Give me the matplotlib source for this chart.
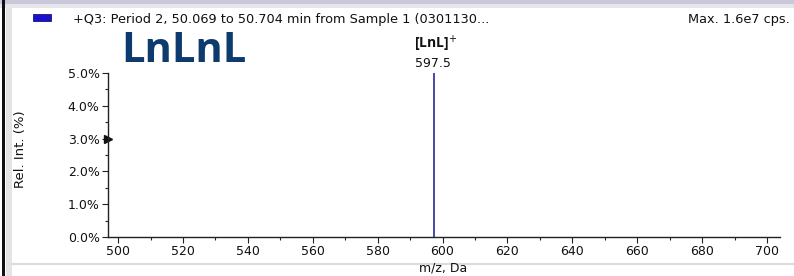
import matplotlib
matplotlib.use("Agg")
import matplotlib.pyplot as plt
from matplotlib.patches import Rectangle
from matplotlib.lines import Line2D
from matplotlib.ticker import MultipleLocator, FuncFormatter

# Data
peak_mz = [597.5]
peak_int = [5.0]
peak_labels = ["597.5"]
ion_label = "[LnL]$^{+}$"
title_text = "+Q3: Period 2, 50.069 to 50.704 min from Sample 1 (0301130..."
max_text = "Max. 1.6e7 cps."
compound = "LnLnL"
x_ticks = [500, 520, 540, 560, 580, 600, 620, 640, 660, 680, 700]
y_ticks = [0.0, 1.0, 2.0, 3.0, 4.0, 5.0]

plt.rcParams['font.family'] = ['DejaVu Sans']

W, H = 794, 276
fig = plt.figure(figsize=(W / 100, H / 100), dpi=100)
fig.patch.set_facecolor("white")

def fx(px):
    return px / W

def fy(py):
    return 1 - py / H

# window frame
fig.add_artist(Rectangle((0, fy(4)), 1, 4 / H, transform=fig.transFigure,
                         facecolor="#c8c8d8", edgecolor="none"))
fig.add_artist(Rectangle((0, fy(8)), 1, 4 / H, transform=fig.transFigure,
                         facecolor="#e6e6ea", edgecolor="none"))
fig.add_artist(Rectangle((fx(2), 0), 3 / W, 1, transform=fig.transFigure,
                         facecolor="#101010", edgecolor="none"))
fig.add_artist(Rectangle((fx(6), 0), 6 / W, fy(8), transform=fig.transFigure,
                         facecolor="#e4e4e4", edgecolor="none"))
fig.add_artist(Line2D([fx(12), 1], [fy(264), fy(264)], transform=fig.transFigure,
                      color="#dcdcdc", lw=1.5))

# legend swatch
fig.add_artist(Rectangle((fx(33), fy(21)), 18 / W, 7 / H, transform=fig.transFigure,
                         facecolor="#1a10d0", edgecolor="#000060", lw=0.5))
fig.text(fx(73), fy(19), title_text, fontsize=9.3, va="center", ha="left", color="#111111")
fig.text(fx(790), fy(19), max_text, fontsize=9.3, va="center", ha="right", color="#111111")

fig.text(fx(121), fy(52), compound, fontsize=30, fontweight="bold", color="#0d3b6e",
         va="center", ha="left", family=["Open Sans", "DejaVu Sans"])

ax = fig.add_axes([fx(108), fy(237), (780 - 108) / W, (237 - 73) / H])
ax.set_facecolor("none")
ax.vlines(peak_mz, 0, peak_int, color="#3a3aa0", lw=1.3)
for m, v, lab in zip(peak_mz, peak_int, peak_labels):
    ax.annotate(lab, (m, v), xytext=(-1, 6.5), textcoords="offset points",
                ha="center", va="center", fontsize=9, color="#111111")
    ax.annotate(ion_label, (m, v), xytext=(1, 21), textcoords="offset points",
                ha="center", va="center", fontsize=10, fontweight="bold",
                color="#111111", family=["Open Sans", "DejaVu Sans"])

ax.set_xlim(496.9, 704)
ax.set_ylim(0, 5.0)
for s in ["top", "right"]:
    ax.spines[s].set_visible(False)
for s in ["left", "bottom"]:
    ax.spines[s].set_color("#222222")
    ax.spines[s].set_linewidth(1.0)
ax.set_xticks(x_ticks)
ax.set_yticks(y_ticks)
ax.xaxis.set_minor_locator(MultipleLocator(10))
ax.yaxis.set_minor_locator(MultipleLocator(0.5))
ax.yaxis.set_major_formatter(FuncFormatter(lambda v, p: f"{v:.1f}%"))
ax.tick_params(axis="both", which="major", length=4, width=0.8, labelsize=9,
               colors="#222222", labelcolor="#111111", pad=2)
ax.tick_params(axis="both", which="minor", length=2, width=0.8, colors="#222222")

# arrow marker on y axis at 3.0%
ax.plot([496.9], [3.0], marker=">", color="#111111", markersize=6,
        clip_on=False, transform=ax.transData)

fig.text(fx(21), fy(149), "Rel. Int. (%)", rotation=90, fontsize=9.5, va="center",
         ha="center", color="#111111")
fig.text(fx(443), fy(268), "m/z, Da", fontsize=9, va="center", ha="center",
         color="#111111")

fig.savefig("out.png", dpi=100)
